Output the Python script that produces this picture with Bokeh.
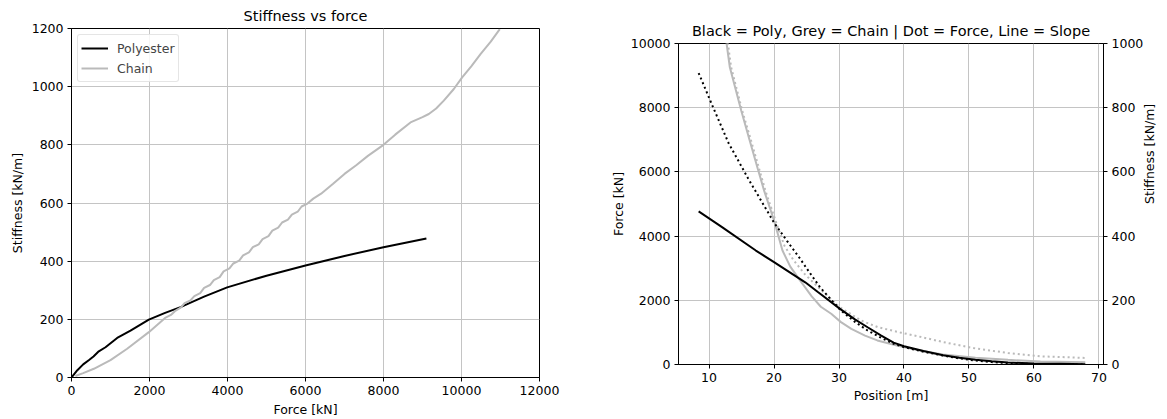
import math
from bokeh.plotting import figure
from bokeh.layouts import row
from bokeh.models import Range1d, LinearAxis, FixedTicker, Legend, LegendItem
from bokeh.embed import file_html
from bokeh.resources import INLINE

# ---------------- Left chart data: stiffness vs force ----------------
poly_force = [0, 150, 300, 450, 564, 700, 872, 1171, 1513, 1983, 2400, 2795, 3400, 3992,
              5000, 6000, 7000, 8000, 9100]
poly_stiff = [0, 25, 45, 60, 72, 90, 104, 136, 161, 199, 222, 242, 278, 310,
              350, 385, 418, 448, 478]

chain_force = [100, 300, 573, 1000, 1427, 1983, 2400, 2550, 2650, 2800, 2900, 3050, 3150,
               3300, 3400, 3550, 3650, 3800, 3900, 4050, 4150, 4300, 4400, 4550, 4650,
               4800, 4900, 5050, 5150, 5300, 5400, 5550, 5650, 5800, 5900, 6050, 6200,
               6400, 6700, 7000, 7300, 7600, 8000, 8300, 8692, 9000, 9162, 9350, 9546,
               9803, 10017, 10250, 10487, 10750, 10982]
chain_stiff = [5, 15, 30, 60, 99, 156, 205, 215, 228, 240, 256, 265, 280,
               290, 308, 318, 335, 345, 365, 375, 392, 402, 420, 430, 448,
               458, 476, 486, 505, 515, 533, 543, 560, 570, 588, 598, 615,
               632, 665, 700, 730, 762, 800, 835, 877, 895, 906, 925, 952,
               992, 1032, 1070, 1112, 1155, 1198]

left_xticks = [0, 2000, 4000, 6000, 8000, 10000, 12000]
left_yticks = [0, 200, 400, 600, 800, 1000, 1200]

# ---------------- Right chart data: force / slope vs position ----------------
poly_force_pos = [8.4, 10.65, 13, 16, 20, 22, 24, 25, 27.1, 30.3, 32.5, 34.4, 36.5, 38.4,
                  40, 43, 46, 48.5, 51, 53.5, 56, 60, 64, 67.9]
poly_force_val = [9080, 8000, 6900, 5800, 4420, 3850, 3300, 3000, 2400, 1680, 1320, 1060,
                  830, 645, 540, 400, 280, 190, 125, 75, 40, 15, 5, 2]

poly_slope_pos = [8.4, 12, 17.2, 20, 24.8, 26.8, 30.1, 32.5, 34.4, 36.5, 38.4, 40, 43, 46,
                  48.5, 51, 53.5, 56, 60, 64, 67.9]
poly_slope_val = [477, 428, 355, 319, 256, 225, 174, 140, 116, 90, 68, 57, 42, 29,
                  21, 15, 10, 6, 3, 2, 1]

chain_slope_pos = [12.4, 12.7, 13.2, 14.95, 16.2, 17.5, 18.5, 20, 21.3, 22.5, 24, 25.8,
                   27.2, 28.8, 30.3, 31.9, 34, 35.9, 38.9, 42, 46, 51, 56, 61, 67.9]
chain_slope_val = [1080, 1000, 926, 791, 702, 610, 540, 449, 355, 305, 262, 212,
                   180, 158, 132, 111, 90, 75, 59, 45, 31, 21, 14.5, 9, 7]

chain_force_pos = [12.6, 12.9, 13.4, 15.1, 16.4, 17.7, 18.7, 20.2, 21.6, 23, 24.8, 26.8,
                   30, 33.4, 36, 39.4, 43, 46, 51, 56, 61, 67.9]
chain_force_val = [10800, 10000, 9260, 7910, 7020, 6100, 5400, 4500, 3700, 3250, 2800,
                   2410, 1800, 1370, 1160, 1000, 840, 700, 500, 360, 255, 205]

right_xticks = [10, 20, 30, 40, 50, 60, 70]
right_yticks = [0, 2000, 4000, 6000, 8000, 10000]
right_y2ticks = [0, 200, 400, 600, 800, 1000]

FONT = "DejaVu Sans"
GREY = "#bababa"
GRID = "#c4c4c4"


def style_axis(ax, size, label_size, label_standoff=4):
    ax.axis_line_color = "black"
    ax.axis_line_width = 1
    ax.major_tick_line_color = "black"
    ax.major_tick_out = 4
    ax.major_tick_in = 0
    ax.minor_tick_line_color = None
    ax.major_label_text_font = FONT
    ax.major_label_text_font_size = size
    ax.major_label_text_color = "black"
    ax.axis_label_text_font = FONT
    ax.axis_label_text_font_size = label_size
    ax.axis_label_text_font_style = "normal"
    ax.axis_label_text_color = "black"
    ax.major_label_standoff = 4
    ax.axis_label_standoff = label_standoff


# ---------------- Left figure ----------------
p1 = figure(width=600, height=419, output_backend="svg", toolbar_location=None,
            x_range=Range1d(0, 12000), y_range=Range1d(0, 1200),
            title="Stiffness vs force",
            min_border_left=71, min_border_right=61, min_border_top=28, min_border_bottom=42)
p1.title.align = "center"
p1.title.text_font = FONT
p1.title.text_font_size = "14.5px"
p1.title.text_font_style = "normal"
p1.title.text_color = "black"
p1.outline_line_color = "black"
p1.outline_line_width = 1
p1.background_fill_color = "white"
p1.border_fill_color = "white"

p1.xaxis.ticker = FixedTicker(ticks=left_xticks)
p1.yaxis.ticker = FixedTicker(ticks=left_yticks)
p1.xaxis.axis_label = "Force [kN]"
p1.yaxis.axis_label = "Stiffness [kN/m]"
for ax in p1.xaxis + p1.yaxis:
    style_axis(ax, "12.5px", "12.5px")
p1.xgrid.grid_line_color = GRID
p1.ygrid.grid_line_color = GRID

r_poly = p1.line(poly_force, poly_stiff, line_color="black", line_width=2)
r_chain = p1.line(chain_force, chain_stiff, line_color=GREY, line_width=2)

leg = Legend(items=[LegendItem(label="Polyester", renderers=[r_poly]),
                    LegendItem(label="Chain", renderers=[r_chain])],
             location="top_left")
leg.margin = 6
leg.padding = 3
leg.spacing = 0
leg.label_text_font = FONT
leg.label_text_font_size = "12.5px"
leg.label_height = 20
leg.glyph_height = 20
leg.glyph_width = 27
leg.label_standoff = 9
leg.border_line_color = "#cccccc"
leg.border_line_width = 1
leg.border_radius = 3
leg.background_fill_alpha = 0.85
p1.add_layout(leg, "center")

# ---------------- Right figure ----------------
p2 = figure(width=567, height=391, output_backend="svg", toolbar_location=None,
            x_range=Range1d(5.3, 70.7), y_range=Range1d(0, 10000),
            title="Black = Poly, Grey = Chain | Dot = Force, Line = Slope",
            min_border_left=78, min_border_right=58, min_border_top=28, min_border_bottom=42,
            margin=(15, 0, 13, 0))
p2.title.align = "center"
p2.title.text_font = FONT
p2.title.text_font_size = "14.5px"
p2.title.text_font_style = "normal"
p2.title.text_color = "black"
p2.outline_line_color = "black"
p2.outline_line_width = 1
p2.background_fill_color = "white"
p2.border_fill_color = "white"
p2.extra_y_ranges = {"slope": Range1d(0, 1000)}

p2.xaxis.ticker = FixedTicker(ticks=right_xticks)
p2.yaxis.ticker = FixedTicker(ticks=right_yticks)
p2.xaxis.axis_label = "Position [m]"
p2.yaxis.axis_label = "Force [kN]"
style_axis(p2.xaxis[0], "12.5px", "12.5px", 3)
style_axis(p2.yaxis[0], "12.5px", "12.5px", 2)
ax2 = LinearAxis(y_range_name="slope", ticker=FixedTicker(ticks=right_y2ticks),
                 axis_label="Stiffness [kN/m]")
style_axis(ax2, "12.5px", "12.5px", 3)
ax2.axis_label_orientation = math.pi / 2
p2.add_layout(ax2, "right")

p2.xgrid.grid_line_color = GRID
p2.ygrid.grid_line_color = GRID

p2.line(chain_slope_pos, chain_slope_val, y_range_name="slope",
        line_color=GREY, line_width=2)
p2.line(chain_force_pos, chain_force_val, line_color=GREY, line_width=2, line_dash="2 3")
p2.line(poly_slope_pos, poly_slope_val, y_range_name="slope",
        line_color="black", line_width=2)
p2.line(poly_force_pos, poly_force_val, line_color="black", line_width=2, line_dash="2 3")

layout = row(p1, p2)
open("out.html", "w").write(file_html(layout, INLINE))
